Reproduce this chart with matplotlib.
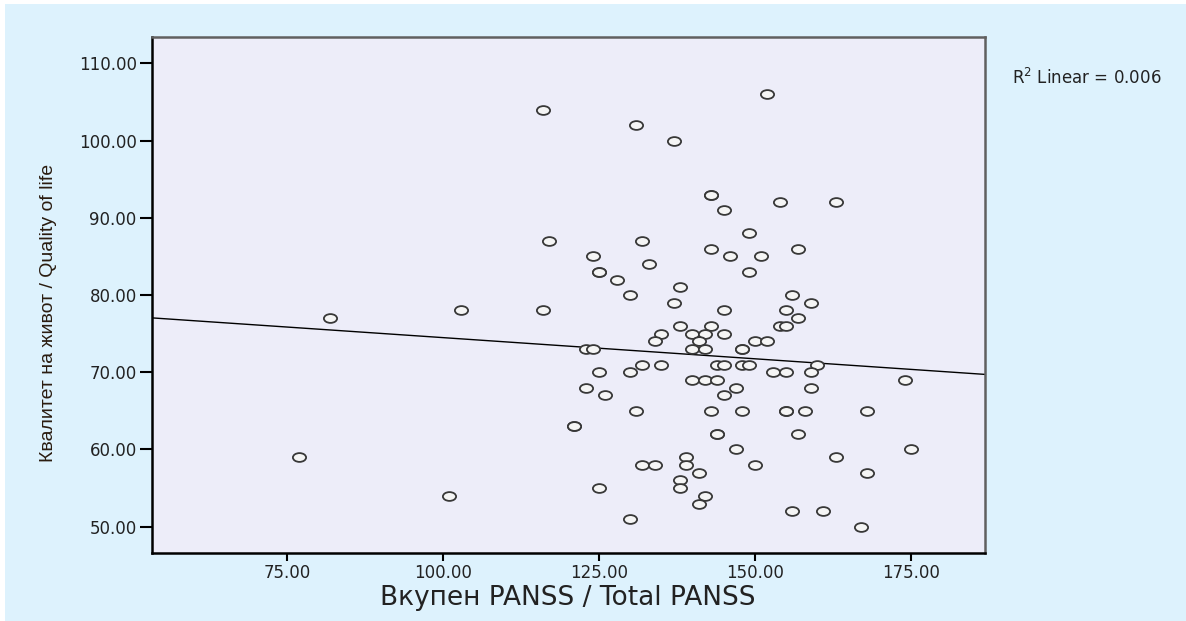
import matplotlib.pyplot as plt
import numpy as np
from matplotlib.path import Path
from matplotlib.patches import Rectangle
from matplotlib.transforms import Affine2D

# Total PANSS vs quality of life, one marker per patient
panss = [116, 131, 137, 152, 143, 143, 145, 154, 163, 149,
         117, 132, 143, 157, 124, 146, 151, 133, 125, 125,
         149, 128, 138, 130, 156, 137, 159, 103, 116, 145,
         155, 82, 157, 138, 143, 154, 155, 135, 140, 142,
         145, 134, 141, 150, 152, 123, 124, 140, 142, 148,
         148, 132, 135, 144, 145, 148, 149, 160, 125, 130,
         153, 155, 159, 140, 142, 144, 174, 123, 147, 159,
         126, 145, 131, 143, 148, 155, 155, 158, 168, 121,
         121, 144, 144, 157, 147, 175, 77, 139, 163, 132,
         134, 139, 150, 141, 168, 138, 125, 138, 101, 142,
         141, 156, 161, 130, 167]
qol = [104, 102, 100, 106, 93, 93, 91, 92, 92, 88,
       87, 87, 86, 86, 85, 85, 85, 84, 83, 83,
       83, 82, 81, 80, 80, 79, 79, 78, 78, 78,
       78, 77, 77, 76, 76, 76, 76, 75, 75, 75,
       75, 74, 74, 74, 74, 73, 73, 73, 73, 73,
       73, 71, 71, 71, 71, 71, 71, 71, 70, 70,
       70, 70, 70, 69, 69, 69, 69, 68, 68, 68,
       67, 67, 65, 65, 65, 65, 65, 65, 65, 63,
       63, 62, 62, 62, 60, 60, 59, 59, 59, 58,
       58, 58, 58, 57, 57, 56, 55, 55, 54, 54,
       53, 52, 52, 51, 50]
yticks = [50, 60, 70, 80, 90, 100, 110]
xticks = [75, 100, 125, 150, 175]
r2_text = "R$^2$ Linear = 0.006"

fig = plt.figure(figsize=(11.86, 6.21), dpi=100, facecolor='white')
fig.patches.append(Rectangle((5 / 1186, 0), 1, 1 - 4 / 621, transform=fig.transFigure,
                             facecolor='#ddf2fd', edgecolor='none', zorder=-1))

ax = fig.add_axes([152 / 1186, 68 / 621, 833 / 1186, 516 / 621])
ax.set_zorder(1)
ax.set_facecolor('#ededf9')

# wide oval marker
oval = Path.unit_circle().transformed(Affine2D().scale(1.5, 1.0))
ax.plot(panss, qol, linestyle='none', marker=oval, markersize=9.5,
        markerfacecolor='#f5f5f5', markeredgecolor='#383838', markeredgewidth=1.3, zorder=3)

ax.set_xlim(53.4, 186.9)
ax.set_ylim(46.6, 113.4)

# least squares line across the whole frame
slope, intercept = np.polyfit(panss, qol, 1)
xl = np.array(ax.get_xlim())
ax.plot(xl, intercept + slope * xl, color='black', lw=1.0, zorder=2)

ax.set_xticks(xticks)
ax.set_yticks(yticks)
ax.set_xticklabels(['%.2f' % v for v in xticks])
ax.set_yticklabels(['%.2f' % v for v in yticks])
ax.tick_params(axis='y', length=9, width=1.5, direction='out', pad=2,
               labelsize=12, labelcolor='#222222')
ax.tick_params(axis='x', length=6, width=1.5, direction='out', pad=2,
               labelsize=12, labelcolor='#222222')

for side in ['left', 'bottom']:
    ax.spines[side].set_color('black')
    ax.spines[side].set_linewidth(1.8)
for side in ['top', 'right']:
    ax.spines[side].set_color('#606060')
    ax.spines[side].set_linewidth(1.8)

fig.text(568 / 1186, 1 - 598 / 621, 'Вкупен PANSS / Total PANSS',
         ha='center', va='center', fontsize=19, color='#222222', family='DejaVu Sans')
fig.text(49 / 1186, 1 - 313 / 621, 'Квалитет на живот / Quality of life',
         ha='center', va='center', rotation=90, fontsize=14, color='#2a1c10',
         family='Liberation Sans')
fig.text(1012 / 1186, 1 - 78 / 621, r2_text, ha='left', va='center',
         fontsize=12, color='#222222')

fig.savefig('out.png', dpi=100, facecolor=fig.get_facecolor())
